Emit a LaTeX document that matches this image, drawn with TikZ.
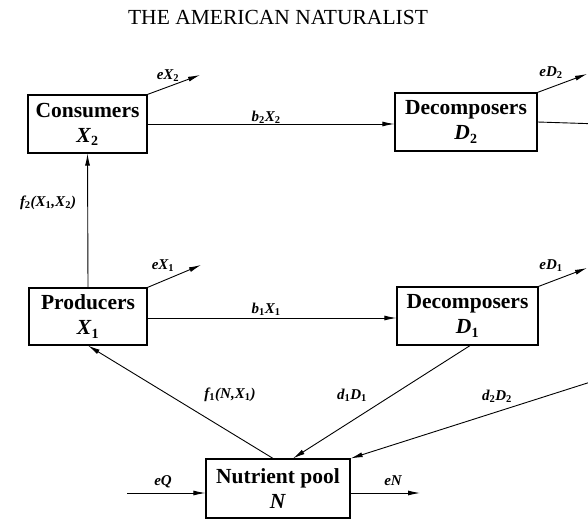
\documentclass[tikz,border=0pt]{standalone}
\usepackage{fontspec}
\setmainfont{Liberation Serif}
\usetikzlibrary{arrows.meta}
\newcommand\bsub[1]{\textsubscript{\fontsize{14}{14}\selectfont\upshape #1}}
\newcommand\lsub[1]{\textsubscript{\fontsize{10.5}{10.5}\selectfont\upshape #1}}
\tikzset{
  box/.style={draw, line width=1.2pt, inner sep=0pt, align=center,
    font=\fontsize{21.5}{25}\selectfont\bfseries},
  lab/.style={inner sep=0pt, font=\fontsize{15}{15}\selectfont\bfseries\itshape},
  flow/.style={line width=0.9pt, -{Latex[length=12pt,width=5pt]}},
  plain/.style={line width=0.9pt}
}
\begin{document}
\begin{tikzpicture}[x=1pt,y=-1pt]
\path[use as bounding box] (0,0) rectangle (588,521);
\clip (0,0) rectangle (588,521);
\node[font=\fontsize{21.5}{21.5}\selectfont] (title) at (278,17) {THE AMERICAN NATURALIST};
\node[box, minimum width=119pt, minimum height=58pt] (cons) at (87.5,124) {Consumers\\\textit{X}\bsub{2}};
\node[box, minimum width=142pt, minimum height=58pt] (dtwo) at (466,122) {Decomposers\\\textit{D}\bsub{2}};
\node[box, minimum width=118pt, minimum height=57pt] (prod) at (88,316.5) {Producers\\\textit{X}\bsub{1}};
\node[box, minimum width=141pt, minimum height=58pt] (done) at (467.5,316) {Decomposers\\\textit{D}\bsub{1}};
\node[box, minimum width=144pt, minimum height=59pt] (np) at (278,488.5) {Nutrient pool\\\textit{N}};
\coordinate (ex2) at (200,75);
\coordinate (ed2) at (587,74);
\coordinate (dtwoout) at (600,124);
\coordinate (ex1) at (201,265);
\coordinate (ed1) at (587,268);
\coordinate (dtwoin) at (600,379);
\coordinate (eqin) at (127,493);
\coordinate (enout) at (420,493);
% connectors
\draw[flow] (cons.north east) -- (ex2);
\draw[flow] (cons.east) -- (cons.east -| dtwo.west);
\draw[flow] (dtwo.north east) -- (ed2);
\draw[plain] (dtwo.east) -- (dtwoout);
\draw[flow] (prod.north) -- (cons.south);
\draw[flow] (prod.north east) -- (ex1);
\draw[flow] ([yshift=-1.5pt]prod.east) -- ([yshift=-1.5pt]prod.east -| done.west);
\draw[flow] (done.north east) -- (ed1);
\draw[flow] ([xshift=-5pt]np.north) -- (prod.south);
\draw[flow] ([xshift=2.5pt]done.south) -- ([xshift=15pt]np.north);
\draw[flow] (dtwoin) -- (np.north east);
\draw[flow] (eqin) -- ([yshift=-4.5pt]np.west);
\draw[flow] ([yshift=-4.5pt]np.east) -- (enout);
% labels
\node[lab] (lex2) at (168,76) {eX\lsub{2}};
\node[lab] (lb2) at (266,117) {b\lsub{2}X\lsub{2}};
\node[lab] (led2) at (551,73) {eD\lsub{2}};
\node[lab] (lf2) at (48,203) {f\lsub{2}(X\lsub{1},X\lsub{2})};
\node[lab] (lex1) at (163,266) {eX\lsub{1}};
\node[lab] (lb1) at (266,309) {b\lsub{1}X\lsub{1}};
\node[lab] (led1) at (551,266) {eD\lsub{1}};
\node[lab] (lf1) at (230,395) {f\lsub{1}(N,X\lsub{1})};
\node[lab] (ld1) at (352,395) {d\lsub{1}D\lsub{1}};
\node[lab] (ld2) at (497,396) {d\lsub{2}D\lsub{2}};
\node[lab] (leq) at (163,482) {eQ};
\node[lab] (len) at (393,481) {eN};
\end{tikzpicture}
\end{document}
